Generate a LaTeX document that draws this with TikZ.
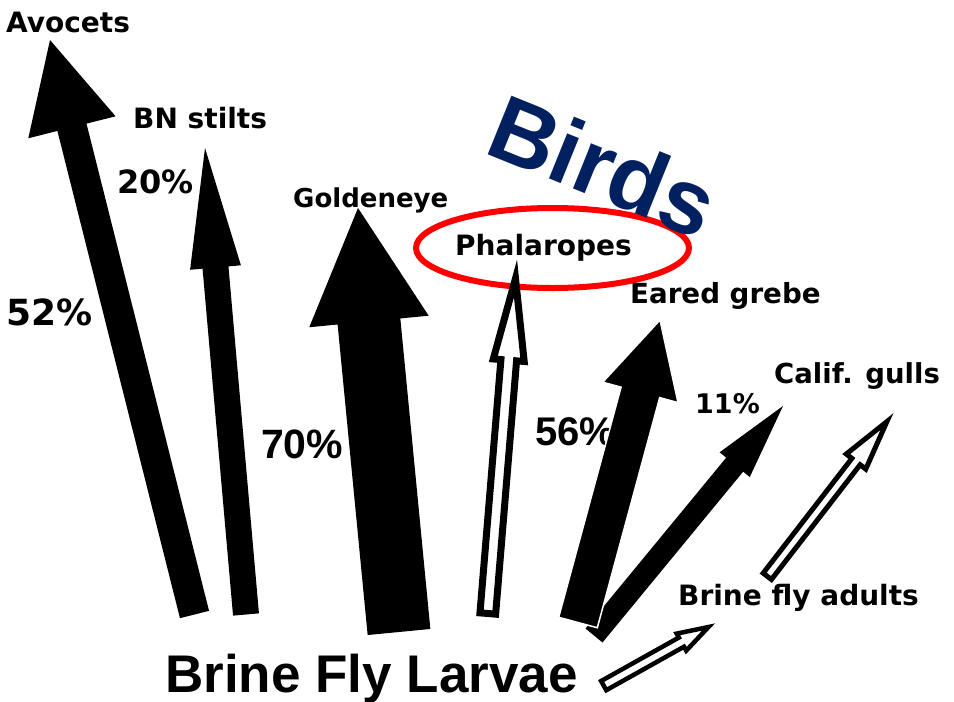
\documentclass[tikz,border=0pt]{standalone}
\usepackage{fontspec}
\usetikzlibrary{calc}
\newfontfamily\dvfont{DejaVu Sans}
\newfontfamily\lbfont{Liberation Sans}
\definecolor{birdnavy}{RGB}{0,32,96}
\newcommand{\myarrow}[6]{%
  \coordinate (#1n) at ($(#2)!#5!(#1)$);
  \path[#6] ($(#1)!#3!90:(#2)$) -- ($(#1n)!#3!90:(#2)$) -- ($(#1n)!#4!90:(#2)$) -- (#2)
    -- ($(#1n)!#4!-90:(#2)$) -- ($(#1n)!#3!-90:(#2)$) -- ($(#1)!#3!-90:(#2)$) -- cycle;
}
\tikzset{
  solidarrow/.style={fill=black},
  hollowarrow/.style={draw=black, fill=white, line join=miter, miter limit=20},
  lbl/.style={anchor=base west, inner sep=0pt, font=\dvfont\bfseries\fontsize{28}{30}\selectfont},
  bigpct/.style={anchor=base west, inner sep=0pt, font=\lbfont\bfseries\fontsize{41}{44}\selectfont},
}
\begin{document}
\begin{tikzpicture}[x=1pt,y=-1pt]
\useasboundingbox (0,0) rectangle (954,702);
\fill[white] (0,0) rectangle (954,702);

% ellipse
\coordinate (ell) at (552.5,248);
\draw[red, line width=6pt] (ell) ellipse [x radius=136.5, y radius=40];

% title
\node[anchor=base west, inner sep=0pt, rotate=-22, text=birdnavy,
      font=\lbfont\bfseries\fontsize{92}{96}\selectfont] (birds) at (482,152) {Birds};

% labels
\node[lbl] (avo) at (6,32) {Avocets};
\node[lbl] (bns) at (133,128) {BN stilts};
\node[lbl, font=\dvfont\bfseries\fontsize{32}{34}\selectfont] (p20) at (117,193) {20\%};
\node[lbl, font=\dvfont\bfseries\fontsize{36}{38}\selectfont] (p52) at (6,325) {52\%};
\node[lbl, font=\dvfont\bfseries\fontsize{26}{28}\selectfont] (gold) at (293,207) {Goldeneye};
\node[lbl] (phal) at (455,255) {Phalaropes};
\node[lbl, font=\dvfont\bfseries\fontsize{27.7}{30}\selectfont] (grebe) at (630,303) {Eared grebe};
\node[lbl, font=\dvfont\bfseries\fontsize{27.5}{30}\selectfont] (gull) at (774,383) {Calif. gulls};
\node[lbl, font=\dvfont\bfseries\fontsize{27}{30}\selectfont] (p11) at (695,413) {11\%};
\node[bigpct, font=\lbfont\bfseries\fontsize{40}{44}\selectfont] (p56) at (535,445) {56\%};
\node[bigpct] (p70) at (261,458) {70\%};
\node[lbl, font=\dvfont\bfseries\fontsize{28}{30}\selectfont] (adults) at (678,605) {Brine fly adults};
\node[anchor=base west, inner sep=0pt, font=\lbfont\bfseries\fontsize{53}{56}\selectfont] (larvae) at (165,692) {Brine Fly Larvae};

% arrow end points
\coordinate (avT) at (194.5,614.5);  \coordinate (avH) at (50,40);
\coordinate (bnT) at (246,614.5);    \coordinate (bnH) at (205,148);
\coordinate (goT) at (399,632);      \coordinate (goH) at (358,208);
\coordinate (phT) at (487.8,613.5);  \coordinate (phH) at (515.5,278.5);
\coordinate (elT) at (594,635.5);    \coordinate (elH) at (783,406);
\coordinate (grT) at (578,622.5);    \coordinate (grH) at (660,320);
\coordinate (guT) at (767.3,576.3);  \coordinate (guH) at (886.9,421.6);
\coordinate (adT) at (603.7,685.6);  \coordinate (adH) at (708.5,627);

% arrows
\myarrow{avT}{avH}{15pt}{45pt}{90pt}{solidarrow}
\myarrow{bnT}{bnH}{13pt}{25.5pt}{120pt}{solidarrow}
\myarrow{goT}{goH}{31.5pt}{60pt}{114pt}{solidarrow}
\myarrow{phT}{phH}{7.85pt}{15.5pt}{82pt}{hollowarrow, line width=7pt}
\myarrow{elT}{elH}{11pt}{19.5pt}{76pt}{solidarrow}
\myarrow{grT}{grH}{20pt}{39pt}{75pt}{solidarrow, draw=white, line width=1.5pt}
\myarrow{guT}{guH}{5.2pt}{12.3pt}{50.5pt}{hollowarrow, line width=5pt}
\myarrow{adT}{adH}{5.25pt}{9.75pt}{31pt}{hollowarrow, line width=4.5pt}
\end{tikzpicture}
\end{document}
